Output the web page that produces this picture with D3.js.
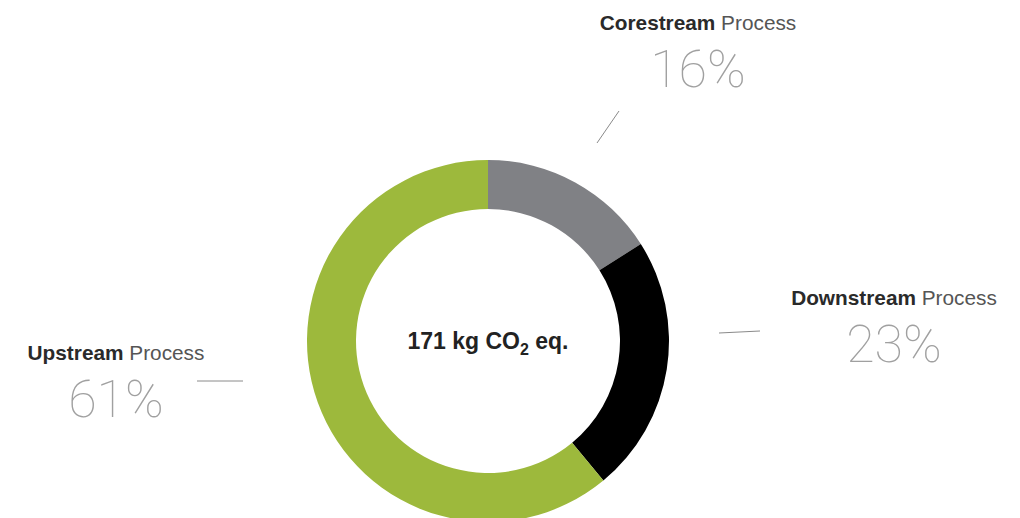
<!DOCTYPE html>
<html>
<head>
<meta charset="utf-8">
<script src="https://cdn.jsdelivr.net/npm/d3@7"></script>
<style>
	body { margin: 0; background: #fff; }
	svg { display: block; }
</style>
</head>
<body>
<script>
// data
const categories = ['Corestream', 'Downstream', 'Upstream'];
const shares = [16, 23, 61];
const totalLabel = '171 kg CO';

const colors = ['#808185', '#000000', '#9db93c'];

// label layout: text centre, baseline of the name, leader line (relative to donut centre)
const labelPos = [
	{ x: 698, y: 30, line: [[109, -198], [131, -230]] },
	{ x: 894, y: 305, line: [[231, -8], [272, -10]] },
	{ x: 116, y: 360, line: [[-245, 40], [-291, 40]] }
];

const width = 1020;
const height = 518;
const cx = 488;
const cy = 341;
const outerRadius = 181;
const innerRadius = 132;

const svg = d3.select('body').append('svg').attr('width', width).attr('height', height);

const rows = categories.map((c, i) => ({ name: c, value: shares[i], color: colors[i], pos: labelPos[i] }));

const pie = d3.pie().value((d) => d.value).sort(null);
const arc = d3.arc().innerRadius(innerRadius).outerRadius(outerRadius);

const g = svg.append('g').attr('transform', `translate(${cx}, ${cy})`);

g
	.selectAll('path')
	.data(pie(rows))
	.enter()
	.append('path')
	.attr('d', arc)
	.attr('fill', (d) => d.data.color);

// centre label
const centre = g
	.append('text')
	.attr('text-anchor', 'middle')
	.attr('y', 8)
	.style('font-family', 'Liberation Sans, Arial, sans-serif')
	.style('font-weight', 700)
	.style('font-size', '23px')
	.attr('fill', '#222');
centre.append('tspan').text(totalLabel);
centre.append('tspan').attr('dy', 6).style('font-size', '16px').text('2');
centre.append('tspan').attr('dy', -6).text(' eq.');

// leader lines
g
	.selectAll('line')
	.data(rows)
	.enter()
	.append('line')
	.attr('x1', (d) => d.pos.line[0][0])
	.attr('y1', (d) => d.pos.line[0][1])
	.attr('x2', (d) => d.pos.line[1][0])
	.attr('y2', (d) => d.pos.line[1][1])
	.attr('stroke', '#8a8a8a')
	.attr('stroke-width', 1);

// labels
const labels = svg
	.selectAll('g.label')
	.data(rows)
	.enter()
	.append('g')
	.attr('class', 'label')
	.attr('transform', (d) => `translate(${d.pos.x}, ${d.pos.y})`);

const name = labels
	.append('text')
	.attr('text-anchor', 'middle')
	.style('font-family', 'Liberation Sans, Arial, sans-serif')
	.style('font-size', '20.8px')
	.attr('fill', '#333');
name.append('tspan').style('font-weight', 700).attr('fill', '#2a2a2a').text((d) => d.name);
name.append('tspan').attr('fill', '#555').text(' Process');

labels
	.append('text')
	.attr('text-anchor', 'middle')
	.attr('y', 57)
	.style('font-family', 'Roboto, Inter, sans-serif')
	.style('font-weight', 100)
	.style('font-size', '52px')
	.attr('fill', '#a0a0a0')
	.text((d) => `${d.value}%`);
</script>
</body>
</html>
